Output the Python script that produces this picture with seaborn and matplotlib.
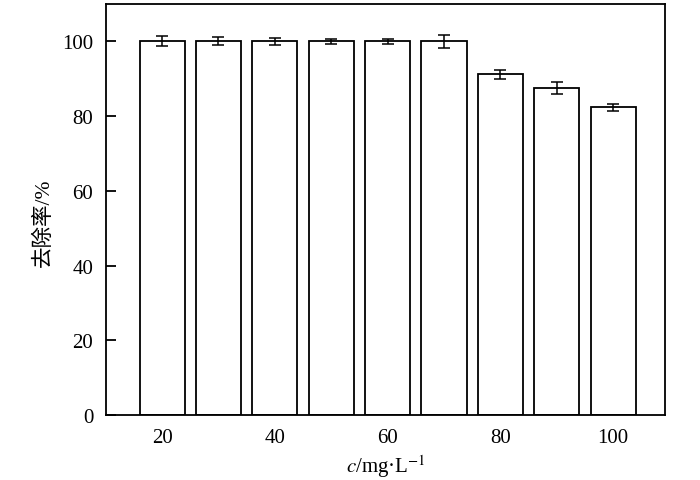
import matplotlib
matplotlib.use("Agg")
import matplotlib.pyplot as plt
import seaborn as sns
import pandas as pd

conc = [20, 30, 40, 50, 60, 70, 80, 90, 100]
removal = [100.0, 100.0, 100.0, 100.0, 100.0, 100.0, 91.2, 87.5, 82.3]
err = [1.4, 1.1, 0.9, 0.7, 0.7, 1.7, 1.2, 1.6, 0.9]
xticks = [20, 40, 60, 80, 100]
yticks = [0, 20, 40, 60, 80, 100]

df = pd.DataFrame({"c": conc, "removal": removal, "err": err})

sns.set_style("ticks")
plt.rcParams['font.family'] = ['Liberation Serif', 'Noto Sans CJK SC']
plt.rcParams['mathtext.fontset'] = 'stix'

fig = plt.figure(figsize=(7, 4.81), dpi=100)
ax = fig.add_axes([0.151, 0.135, 0.799, 0.855])

sns.barplot(data=df, x="c", y="removal", native_scale=True, color="white",
            edgecolor="black", linewidth=1.3, width=0.8, errorbar=None, ax=ax)
ax.errorbar(df["c"], df["removal"], yerr=df["err"], fmt="none", ecolor="black",
            elinewidth=1.1, capsize=4.5, capthick=1.1)

ax.set_xlim(10, 109.2)
ax.set_ylim(0, 110)
ax.set_xticks(xticks)
ax.set_yticks(yticks)
ax.tick_params(direction="in", length=7, width=1.3, labelsize=15, pad=9,
               colors="black")
for s in ax.spines.values():
    s.set_linewidth(1.3)
    s.set_color("black")
    s.set_visible(True)

ax.set_xlabel("$c$/mg·L$^{-1}$", fontsize=15, labelpad=4, color="black")
ax.set_ylabel("去除率/%", fontsize=15.5, fontweight="medium", color="black")
ax.yaxis.set_label_coords(-0.092, 0.47)

fig.savefig("out.png", dpi=100)
